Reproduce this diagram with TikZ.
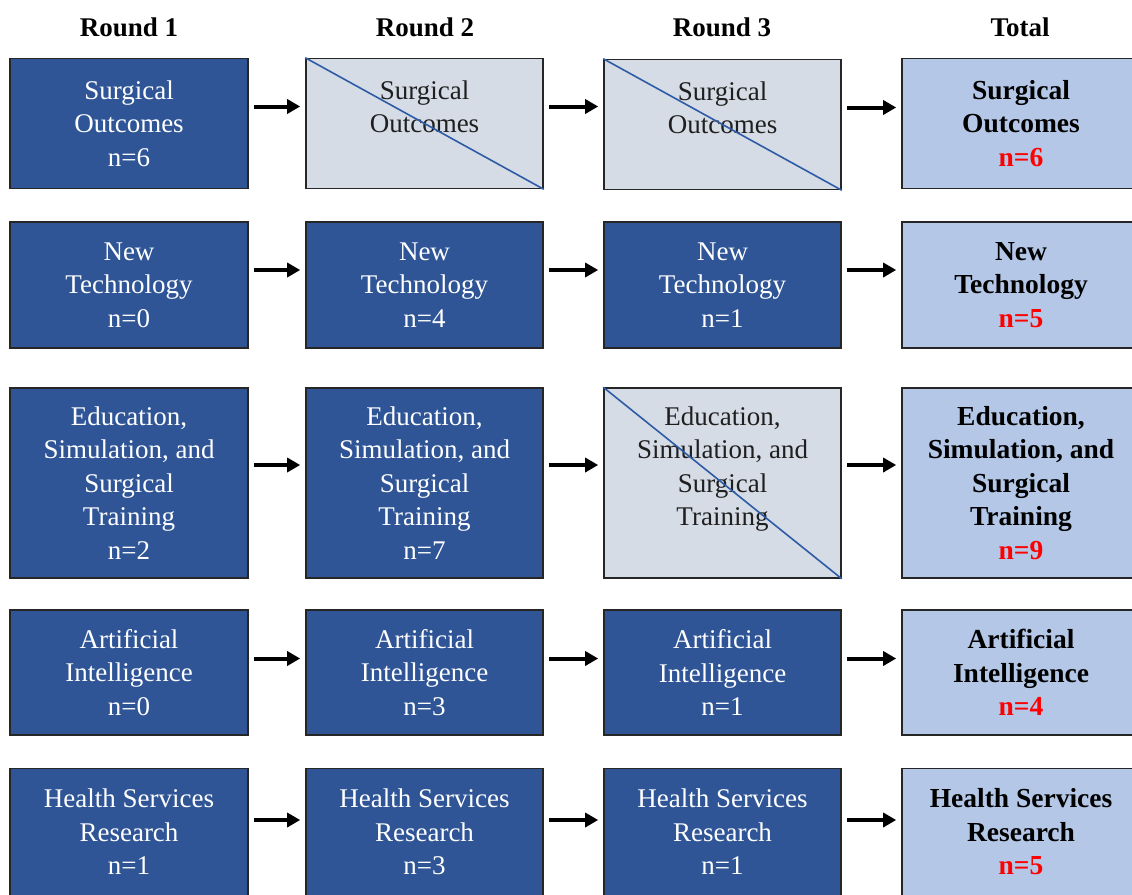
\documentclass[tikz,border=0pt]{standalone}
\usepackage{fontspec}
\setmainfont{Liberation Serif}
\usetikzlibrary{arrows.meta}

\definecolor{dkblue}{HTML}{2F5597}
\definecolor{ltgray}{HTML}{D6DCE5}
\definecolor{ltblue}{HTML}{B4C7E7}
\definecolor{diagblue}{HTML}{2E5BA6}
\definecolor{nred}{HTML}{FF0000}

\tikzset{
  box/.style={draw=black!85, line width=1.6pt, align=center, inner sep=0pt,
    font=\fontsize{27}{33.5}\selectfont},
  roundbox/.style={box, fill=dkblue, text=white},
  dropbox/.style={box, fill=ltgray, text=black!88},
  totalbox/.style={box, fill=ltblue, text=black,
    font=\fontsize{27.5}{33.5}\selectfont\bfseries},
  cA/.style={minimum width=238pt},
  cB/.style={minimum width=237pt},
  rowA/.style={minimum height=130pt},
  rowB/.style={minimum height=126pt},
  rowC/.style={minimum height=190pt},
  rowD/.style={minimum height=125pt},
  rowE/.style={minimum height=127pt},
  hdr/.style={font=\fontsize{27}{30}\selectfont\bfseries, text=black},
  arr/.style={line width=4pt, -{Triangle[length=13pt,width=14pt]}},
  cross/.style={draw=diagblue, line width=1.6pt},
}
\newcommand{\cnt}[1]{\textcolor{nred}{#1}}

\begin{document}
\begin{tikzpicture}[x=1pt,y=1pt]
  \clip (0,0) rectangle (1132,-894);
  \fill[white] (0,0) rectangle (1132,-894);

  % column headers
  \node[hdr] (h1) at (129,-27)   {Round 1};
  \node[hdr] (h2) at (425,-27)   {Round 2};
  \node[hdr] (h3) at (722,-27)   {Round 3};
  \node[hdr] (h4) at (1020,-27)  {Total};

  % row 1: surgical outcomes
  \node[roundbox,cA,rowA] (r1c1) at (129,-123.5)   {Surgical\\Outcomes\\n=6};
  \node[dropbox,cB,rowA]  (r1c2) at (424.5,-123.5) {Surgical\\Outcomes\\\mbox{}};
  \node[dropbox,cB,rowA]  (r1c3) at (722.5,-124.5) {Surgical\\Outcomes\\\mbox{}};
  \node[totalbox,cA,rowA] (r1c4) at (1021,-123.5)  {Surgical\\Outcomes\\\cnt{n=6}};

  % row 2: new technology
  \node[roundbox,cA,rowB] (r2c1) at (129,-285)   {New\\Technology\\n=0};
  \node[roundbox,cB,rowB] (r2c2) at (424.5,-285) {New\\Technology\\n=4};
  \node[roundbox,cB,rowB] (r2c3) at (722.5,-285) {New\\Technology\\n=1};
  \node[totalbox,cA,rowB] (r2c4) at (1021,-285)  {New\\Technology\\\cnt{n=5}};

  % row 3: education, simulation, and surgical training
  \node[roundbox,cA,rowC] (r3c1) at (129,-483)   {Education,\\Simulation, and\\Surgical\\Training\\n=2};
  \node[roundbox,cB,rowC] (r3c2) at (424.5,-483) {Education,\\Simulation, and\\Surgical\\Training\\n=7};
  \node[dropbox,cB,rowC]  (r3c3) at (722.5,-483) {Education,\\Simulation, and\\Surgical\\Training\\\mbox{}};
  \node[totalbox,cA,rowC] (r3c4) at (1021,-483)  {Education,\\Simulation, and\\Surgical\\Training\\\cnt{n=9}};

  % row 4: artificial intelligence
  \node[roundbox,cA,rowD] (r4c1) at (129,-672.5)   {Artificial\\Intelligence\\n=0};
  \node[roundbox,cB,rowD] (r4c2) at (424.5,-672.5) {Artificial\\Intelligence\\n=3};
  \node[roundbox,cB,rowD] (r4c3) at (722.5,-672.5) {Artificial\\Intelligence\\n=1};
  \node[totalbox,cA,rowD] (r4c4) at (1021,-672.5)  {Artificial\\Intelligence\\\cnt{n=4}};

  % row 5: health services research
  \node[roundbox,cA,rowE] (r5c1) at (129,-832)   {Health Services\\Research\\n=1};
  \node[roundbox,cB,rowE] (r5c2) at (424.5,-832) {Health Services\\Research\\n=3};
  \node[roundbox,cB,rowE] (r5c3) at (722.5,-832) {Health Services\\Research\\n=1};
  \node[totalbox,cA,rowE] (r5c4) at (1021,-832)  {Health Services\\Research\\\cnt{n=5}};

  % topics dropped in a round are struck through
  \draw[cross] (r1c2.north west) -- (r1c2.south east);
  \draw[cross] (r1c3.north west) -- (r1c3.south east);
  \draw[cross] (r3c3.north west) -- (r3c3.south east);

  % arrows between rounds, level within each row
  \foreach \r/\dy in {1/17, 2/15, 3/18, 4/14, 5/12} {
    \draw[arr] ([xshift=5pt,yshift=\dy pt]r\r c1.east) -- ([xshift=-5pt,yshift=\dy pt]r\r c1.east -| r\r c2.west);
    \draw[arr] ([xshift=5pt,yshift=\dy pt]r\r c2.east) -- ([xshift=-5pt,yshift=\dy pt]r\r c2.east -| r\r c3.west);
    \draw[arr] ([xshift=5pt,yshift=\dy pt]r\r c3.east) -- ([xshift=-5pt,yshift=\dy pt]r\r c3.east -| r\r c4.west);
  }
\end{tikzpicture}
\end{document}
